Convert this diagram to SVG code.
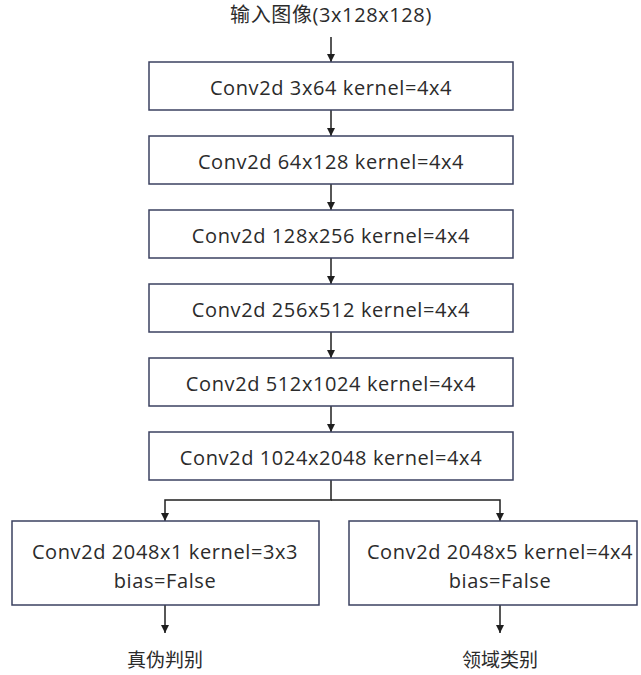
<svg xmlns="http://www.w3.org/2000/svg" width="641" height="675" viewBox="0 0 641 675">
  <style>
    .box { fill: #ffffff; stroke: #3b4160; stroke-width: 1.5; }
    .lbl { font-family: "Open Sans", "Noto Sans CJK SC", sans-serif; font-size: 20px; letter-spacing: 0.6px; fill: #2b2b2b; text-anchor: middle; dominant-baseline: central; }
    .cjk { font-size: 19px; letter-spacing: 0; }
    .wire { fill: none; stroke: #1f1f1f; stroke-width: 1.5; }
  </style>
  <defs>
    <marker id="arrow" viewBox="0 0 10 10" refX="10" refY="5" markerWidth="8" markerHeight="8" markerUnits="userSpaceOnUse" orient="auto">
      <path d="M0,0 L10,5 L0,10 Z" fill="#1f1f1f"/>
    </marker>
  </defs>

  <rect width="641" height="675" fill="#ffffff"/>

  <g id="connectors">
    <line class="wire" x1="331" y1="37" x2="331" y2="62" marker-end="url(#arrow)"/>
    <line class="wire" x1="331" y1="110" x2="331" y2="136" marker-end="url(#arrow)"/>
    <line class="wire" x1="331" y1="184" x2="331" y2="210" marker-end="url(#arrow)"/>
    <line class="wire" x1="331" y1="258" x2="331" y2="284" marker-end="url(#arrow)"/>
    <line class="wire" x1="331" y1="332" x2="331" y2="358" marker-end="url(#arrow)"/>
    <line class="wire" x1="331" y1="406" x2="331" y2="432" marker-end="url(#arrow)"/>
    <polyline class="wire" points="331,480 331,500 165,500 165,521" marker-end="url(#arrow)"/>
    <polyline class="wire" points="331,500 500,500 500,521" marker-end="url(#arrow)"/>
    <line class="wire" x1="165" y1="605" x2="165" y2="633" marker-end="url(#arrow)"/>
    <line class="wire" x1="500" y1="605" x2="500" y2="633" marker-end="url(#arrow)"/>
  </g>

  <g id="input">
    <text class="lbl" x="331" y="14">输入图像(3x128x128)</text>
  </g>
  <g id="conv1">
    <rect class="box" x="149" y="62" width="364" height="48"/>
    <text class="lbl" x="331" y="87">Conv2d 3x64 kernel=4x4</text>
  </g>
  <g id="conv2">
    <rect class="box" x="149" y="136" width="364" height="48"/>
    <text class="lbl" x="331" y="161">Conv2d 64x128 kernel=4x4</text>
  </g>
  <g id="conv3">
    <rect class="box" x="149" y="210" width="364" height="48"/>
    <text class="lbl" x="331" y="235">Conv2d 128x256 kernel=4x4</text>
  </g>
  <g id="conv4">
    <rect class="box" x="149" y="284" width="364" height="48"/>
    <text class="lbl" x="331" y="309">Conv2d 256x512 kernel=4x4</text>
  </g>
  <g id="conv5">
    <rect class="box" x="149" y="358" width="364" height="48"/>
    <text class="lbl" x="331" y="383">Conv2d 512x1024 kernel=4x4</text>
  </g>
  <g id="conv6">
    <rect class="box" x="149" y="432" width="364" height="48"/>
    <text class="lbl" x="331" y="457">Conv2d 1024x2048 kernel=4x4</text>
  </g>
  <g id="head-real">
    <rect class="box" x="12" y="521" width="307" height="84"/>
    <text class="lbl" x="165" y="551">Conv2d 2048x1 kernel=3x3</text>
    <text class="lbl" x="165" y="580">bias=False</text>
  </g>
  <g id="head-domain">
    <rect class="box" x="349" y="521" width="288" height="84"/>
    <text class="lbl" x="500" y="551">Conv2d 2048x5 kernel=4x4</text>
    <text class="lbl" x="500" y="580">bias=False</text>
  </g>
  <g id="out-real">
    <text class="lbl cjk" x="165" y="660">真伪判别</text>
  </g>
  <g id="out-domain">
    <text class="lbl cjk" x="500" y="660">领域类别</text>
  </g>
</svg>
